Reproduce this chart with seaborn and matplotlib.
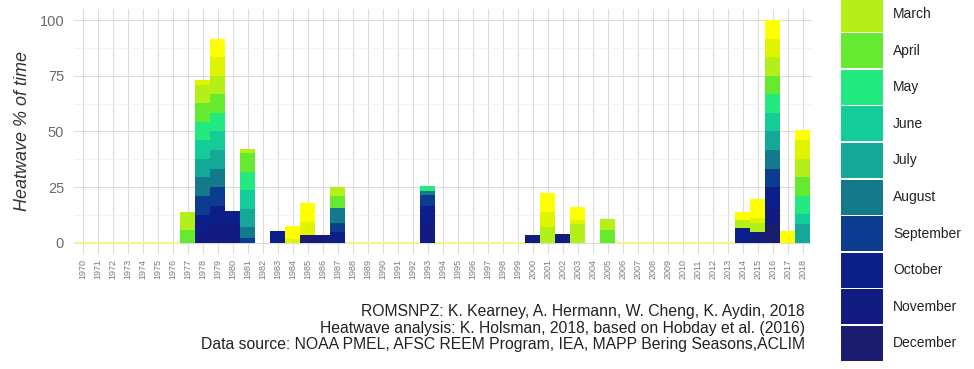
import pandas as pd
import matplotlib
matplotlib.use('Agg')
import matplotlib.pyplot as plt
import matplotlib.patches as mpatches
from matplotlib.ticker import MultipleLocator
import seaborn as sns

# months (stack order: first level on top) and their colours
months = ['January', 'February', 'March', 'April', 'May', 'June', 'July',
          'August', 'September', 'October', 'November', 'December']
month_colors = ['#ffff00', '#dff500', '#b5ef1a', '#66ea30', '#22ea80', '#14cc98',
                '#14a898', '#127a8a', '#0c3c90', '#0c1e8a', '#121c80', '#1a1c70']
# the reference picture is cropped at the top: only March..December of the key show
legend_months = months[2:]

years_all = list(range(1970, 2019))
zero_years = list(range(1970, 1977)) + list(range(1988, 1993)) + \
    list(range(1994, 2000)) + list(range(2006, 2014))

# heatwave % of time contributed by each month, per year
heat_years = [1977, 1978, 1979, 1980, 1981, 1983, 1984, 1985, 1986, 1987, 1993,
              2000, 2001, 2002, 2003, 2005, 2014, 2015, 2016, 2017, 2018]
jan = [0, 0, 8.33, 0, 0, 0, 6.0, 8.3, 0, 0, 0, 0, 8.3, 0, 6.0, 0, 3.7, 8.3, 8.33, 5.4, 4.6]
feb = [0, 2.0, 8.33, 0, 0, 0, 1.5, 5.9, 0, 0, 0, 0, 6.7, 0, 2.0, 0, 0, 2.3, 8.33, 0, 8.3]
mar = [8.3, 8.33, 8.33, 0, 2.0, 0, 0, 0, 0, 4.0, 0, 0, 7.2, 0, 8.2, 5.0, 3.6, 4.0, 8.33, 0, 8.3]
apr = [5.6, 8.33, 8.33, 0, 8.3, 0, 0, 0, 0, 5.4, 0, 0, 0, 0, 0, 5.5, 0, 0, 8.33, 0, 8.3]
may = [0, 8.33, 8.33, 0, 8.3, 0, 0, 0, 0, 0, 2.0, 0, 0, 0, 0, 0, 0, 0, 8.33, 0, 8.3]
jun = [0, 8.33, 8.33, 0, 8.3, 0, 0, 0, 0, 0, 0, 0, 0, 0, 0, 0, 0, 0, 8.33, 0, 4.5]
jul = [0, 8.33, 8.33, 0, 8.3, 0, 0, 0, 0, 0, 0, 0, 0, 0, 0, 0, 0, 0, 8.33, 0, 8.3]
aug = [0, 8.33, 8.33, 0, 5.0, 0, 0, 0, 0, 6.7, 2.0, 0, 0, 0, 0, 0, 0, 0, 8.33, 0, 0]
sep = [0, 8.33, 8.33, 0, 2.0, 0, 0, 0, 0, 4.0, 5.0, 0, 0, 0, 0, 0, 0, 0, 8.33, 0, 0]
oct_ = [0, 8.33, 8.33, 6.1, 0, 5.4, 0, 0, 0, 4.8, 8.3, 0, 0, 0, 0, 0, 6.6, 0, 8.33, 0, 0]
nov = [0, 4.3, 8.33, 8.3, 0, 0, 0, 0, 3.5, 0, 8.0, 3.5, 0, 3.7, 0, 0, 0, 5.0, 8.33, 0, 0]
dec = [0, 0, 0, 0, 0, 0, 0, 3.5, 0, 0, 0, 0, 0, 0, 0, 0, 0, 0, 8.33, 0, 0]

caption = ['ROMSNPZ: K. Kearney, A. Hermann, W. Cheng, K. Aydin, 2018',
           'Heatwave analysis: K. Holsman, 2018, based on Hobday et al. (2016)',
           'Data source: NOAA PMEL, AFSC REEM Program, IEA, MAPP Bering Seasons,ACLIM']

# long table
series = [jan, feb, mar, apr, may, jun, jul, aug, sep, oct_, nov, dec]
rows = []
for m, vals in zip(months, series):
    for y, v in zip(heat_years, vals):
        if v > 0:
            rows.append({'year': y, 'month': m, 'pct': v})
df = pd.DataFrame(rows)
df['month'] = pd.Categorical(df['month'], categories=months, ordered=True)

sns.set_style('white')
plt.rcParams['font.family'] = ['Liberation Sans', 'DejaVu Sans']

fig = plt.figure(figsize=(9.74, 3.69), dpi=100)
ax = fig.add_axes([0.0757, 0.3122, 0.7577, 0.6634])

ax.set_axisbelow(True)
ax.grid(True, which='major', color='#dcdcdc', linewidth=0.8)
ax.yaxis.set_minor_locator(MultipleLocator(12.5))
ax.grid(True, which='minor', axis='y', color='#ededed', linewidth=0.5)

palette = dict(zip(months, month_colors))
sns.histplot(data=df, x='year', weights='pct', hue='month', hue_order=months,
             multiple='stack', discrete=True, shrink=1.0, palette=palette,
             linewidth=0, alpha=1, legend=False, ax=ax)

# years with no heatwave: flat line at zero
ax.bar(zero_years, [0] * len(zero_years), width=1.0, color='none',
       edgecolor='#f4f48a', linewidth=1.6)

ax.set_xlim(1969.4, 2018.6)
ax.set_ylim(-5, 105)
ax.set_xticks(years_all)
ax.set_xticklabels([str(y) for y in years_all], rotation=90, fontsize=6.5, color='#7a7a7a')
ax.set_yticks([0, 25, 50, 75, 100])
ax.tick_params(axis='y', labelsize=10.5, labelcolor='#6a6a6a', length=0, pad=7)
ax.tick_params(axis='x', length=0, pad=4)
ax.tick_params(which='minor', length=0)
ax.set_xlabel('')
ax.set_ylabel('Heatwave % of time', fontsize=13, style='italic', color='#333333', labelpad=6)
for s in ax.spines.values():
    s.set_visible(False)

fig.text(0.826, 0.175, '\n'.join(caption), ha='right', va='top', multialignment='right',
         fontsize=11.3, color='#222222', linespacing=1.12)

handles = [mpatches.Patch(facecolor=palette[m], edgecolor='none', label=m)
           for m in legend_months]
fig.legend(handles=handles, loc='upper left', bbox_to_anchor=(0.8634, 1.0092),
           frameon=False, fontsize=10, borderpad=0, borderaxespad=0,
           handlelength=3.02, handleheight=3.5, labelspacing=0.115,
           handletextpad=0.72, labelcolor='#222222')

fig.savefig('out.png', dpi=100)
